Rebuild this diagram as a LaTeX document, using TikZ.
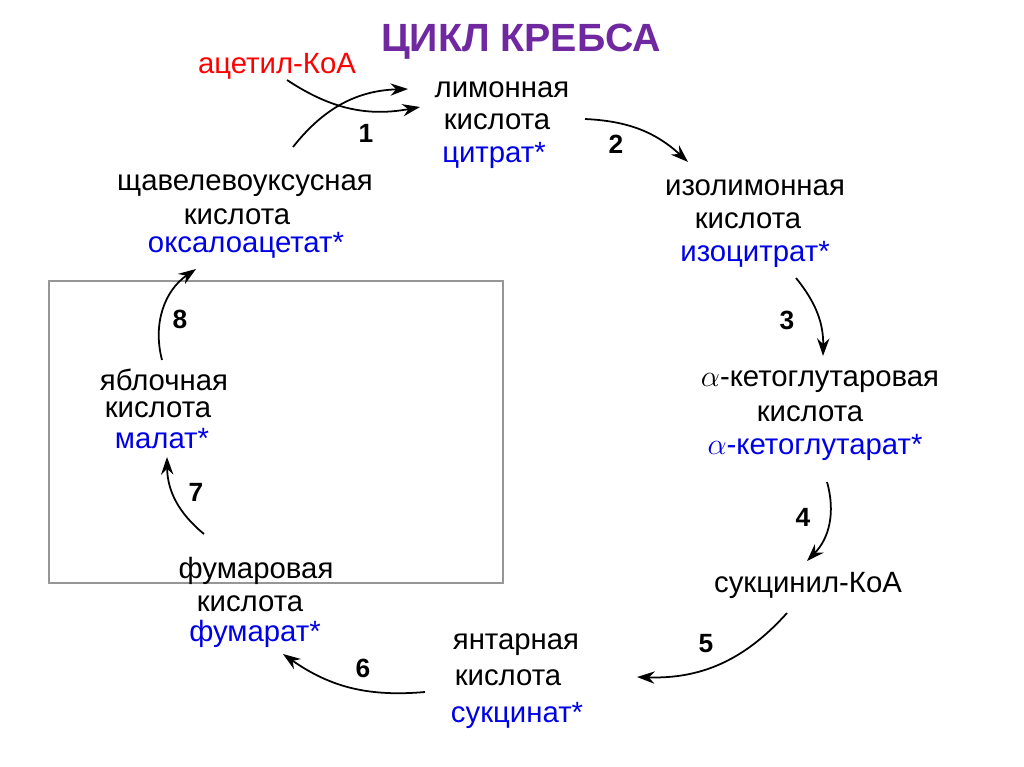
\documentclass[tikz,border=0pt]{standalone}
\usepackage{fontspec}
\setmainfont{Liberation Sans}
\usetikzlibrary{arrows.meta}
\definecolor{titlepurple}{RGB}{112,40,160}
\definecolor{salt}{RGB}{0,0,230}
\definecolor{frame}{RGB}{150,150,150}

\begin{document}
\begin{tikzpicture}[x=0.02cm,y=-0.02cm,
  acid/.style={inner sep=0pt,font=\fontsize{16.7}{19}\selectfont},
  anion/.style={acid,text=salt},
  stepno/.style={inner sep=0pt,font=\fontsize{15}{17}\selectfont\bfseries},
  cyc/.style={line width=1pt,-{Stealth[length=10pt,width=7pt]}}]
\useasboundingbox (0,0) rectangle (1024,767);

\draw[frame,line width=0.8pt] (49,281) rectangle (503,583);

\node[inner sep=0pt,text=titlepurple,font=\fontsize{22.4}{25}\selectfont\bfseries] (title) at (521,42) {ЦИКЛ КРЕБСА};
\node[acid,text=red] (acoa) at (277,66) {ацетил-КоА};

\node[acid] (cit1) at (502,90) {лимонная};
\node[acid] (cit2) at (497,122) {кислота};
\node[anion] (cit3) at (494,155) {цитрат*};

\node[acid] (iso1) at (755,188) {изолимонная};
\node[acid] (iso2) at (748,221) {кислота};
\node[anion] (iso3) at (755,254) {изоцитрат*};

\node[acid] (akg1) at (820,382) {$\alpha$-кетоглутаровая};
\node[acid] (akg2) at (810,414) {кислота};
\node[anion] (akg3) at (815,447) {$\alpha$-кетоглутарат*};

\node[acid] (scoa) at (808,585) {сукцинил-КоА};

\node[acid] (suc1) at (516,645) {янтарная};
\node[acid] (suc2) at (508,678) {кислота};
\node[anion] (suc3) at (517,715) {сукцинат*};

\node[acid] (fum1) at (256,571) {фумаровая};
\node[acid] (fum2) at (250,604) {кислота};
\node[anion] (fum3) at (255,634) {фумарат*};

\node[acid] (mal1) at (164,380) {яблочная};
\node[acid] (mal2) at (158,410) {кислота};
\node[anion] (mal3) at (162,439) {малат*};

\node[acid] (oaa1) at (245,186) {щавелевоуксусная};
\node[acid] (oaa2) at (237,217) {кислота};
\node[anion] (oaa3) at (246,245) {оксалоацетат*};

\node[stepno] (n1) at (366,133) {1};
\node[stepno] (n2) at (616,144) {2};
\node[stepno] (n3) at (787,320) {3};
\node[stepno] (n4) at (803,517) {4};
\node[stepno] (n5) at (706,644) {5};
\node[stepno] (n6) at (363,668) {6};
\node[stepno] (n7) at (196,492) {7};
\node[stepno] (n8) at (180,319) {8};

\coordinate (a0) at (287,80);
\coordinate (a1) at (420,107);
\coordinate (o0) at (293,147);
\coordinate (o1) at (408,89);
\coordinate (c0) at (585,119);
\coordinate (c1) at (688,162);
\coordinate (i0) at (796,278);
\coordinate (i1) at (823,356);
\coordinate (k0) at (827,482);
\coordinate (k1) at (807,561);
\coordinate (s0) at (787,613);
\coordinate (s1) at (637,677);
\coordinate (u0) at (425,692);
\coordinate (u1) at (283,654);
\coordinate (f0) at (204,534);
\coordinate (f1) at (167,457);
\coordinate (m0) at (162,360);
\coordinate (m1) at (196,269);

\draw[cyc] (a0) to[bend right=22] (a1);
\draw[cyc] (o0) to[bend left=25] (o1);
\draw[cyc] (c0) to[bend left=20] (c1);
\draw[cyc] (i0) to[bend left=20] (i1);
\draw[cyc] (k0) to[bend left=30] (k1);
\draw[cyc] (s0) to[bend left=25] (s1);
\draw[cyc] (u0) to[bend left=20] (u1);
\draw[cyc] (f0) to[bend left=25] (f1);
\draw[cyc] (m0) to[bend left=35] (m1);
\end{tikzpicture}
\end{document}
